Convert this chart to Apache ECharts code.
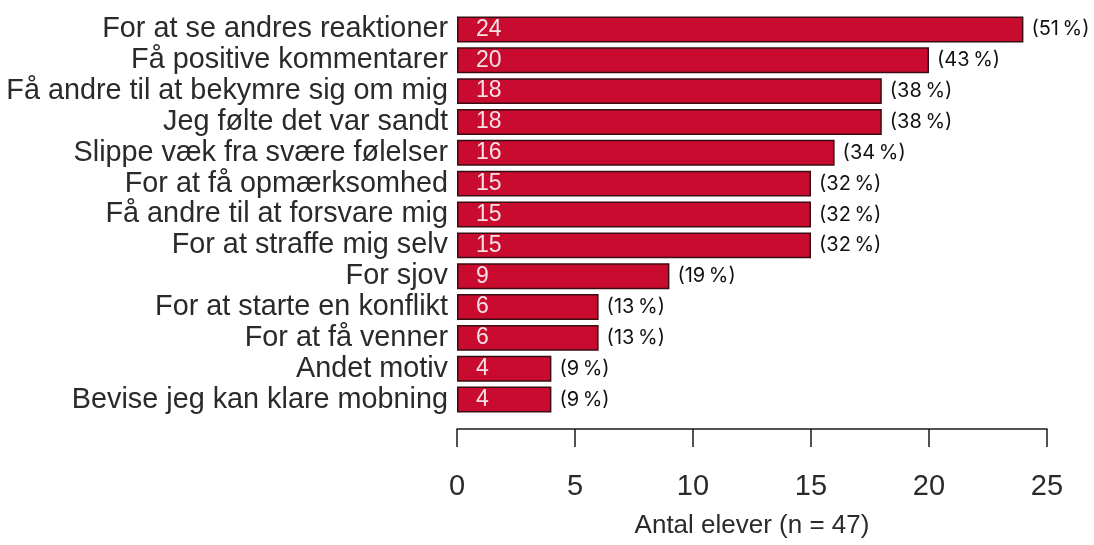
<!DOCTYPE html>
<html>
<head>
<meta charset="utf-8">
<script src="https://cdn.jsdelivr.net/npm/echarts@6/dist/echarts.min.js"></script>
<style>
  html, body { margin: 0; padding: 0; background: #fff; }
  #chart { width: 1094px; height: 545px; }
</style>
</head>
<body>
<div id="chart"></div>
<script>
// motiver, sorteret efter antal
const motives = [
  'For at se andres reaktioner',
  'Få positive kommentarer',
  'Få andre til at bekymre sig om mig',
  'Jeg følte det var sandt',
  'Slippe væk fra svære følelser',
  'For at få opmærksomhed',
  'Få andre til at forsvare mig',
  'For at straffe mig selv',
  'For sjov',
  'For at starte en konflikt',
  'For at få venner',
  'Andet motiv',
  'Bevise jeg kan klare mobning'
]
const counts = [24, 20, 18, 18, 16, 15, 15, 15, 9, 6, 6, 4, 4]
const percents = [51, 43, 38, 38, 34, 32, 32, 32, 19, 13, 13, 9, 9]
const xTicks = [0, 5, 10, 15, 20, 25]
const axisTitle = 'Antal elever (n = 47)'

const chart = echarts.init(document.getElementById('chart'))

const option = {
  animation: false,
  grid: {
    left: 457,
    width: 590,
    top: 14,
    height: 401
  },
  xAxis: {
    type: 'value',
    min: xTicks[0],
    max: xTicks[xTicks.length - 1],
    interval: 5,
    offset: 14,
    name: axisTitle,
    nameLocation: 'middle',
    nameGap: 84,
    nameTextStyle: {
      fontFamily: 'Liberation Sans',
      fontSize: 26,
      color: '#2a2a2a'
    },
    axisLine: { show: true, lineStyle: { color: '#1a1a1a', width: 1.5 } },
    axisTick: { show: true, length: 18, lineStyle: { color: '#1a1a1a', width: 1.5 } },
    axisLabel: {
      margin: 43,
      fontFamily: 'Liberation Sans',
      fontSize: 29,
      color: '#2a2a2a'
    },
    splitLine: { show: false }
  },
  yAxis: {
    type: 'category',
    inverse: true,
    data: motives,
    axisLine: { show: false },
    axisTick: { show: false },
    axisLabel: {
      interval: 0,
      margin: 9,
      fontFamily: 'Liberation Sans',
      fontSize: 28.8,
      color: '#2a2a2a'
    }
  },
  series: [
    {
      type: 'bar',
      data: counts,
      barCategoryGap: '16%',
      itemStyle: {
        color: '#c90b30',
        borderColor: '#3a0d12',
        borderWidth: 1.5
      },
      label: {
        show: true,
        position: 'insideLeft',
        distance: 19,
        fontFamily: 'Liberation Sans',
        fontSize: 23,
        color: '#f6dfe5'
      }
    },
    {
      // procentetiket til højre for søjlen
      type: 'bar',
      data: counts,
      barGap: '-100%',
      barCategoryGap: '16%',
      silent: true,
      itemStyle: { color: 'transparent' },
      label: {
        show: true,
        position: 'right',
        distance: 8,
        fontFamily: 'Inter',
        fontSize: 20,
        color: '#111',
        formatter: p => '(' + percents[p.dataIndex] + '\u2009%)'
      }
    }
  ]
}

chart.setOption(option)
</script>
</body>
</html>
